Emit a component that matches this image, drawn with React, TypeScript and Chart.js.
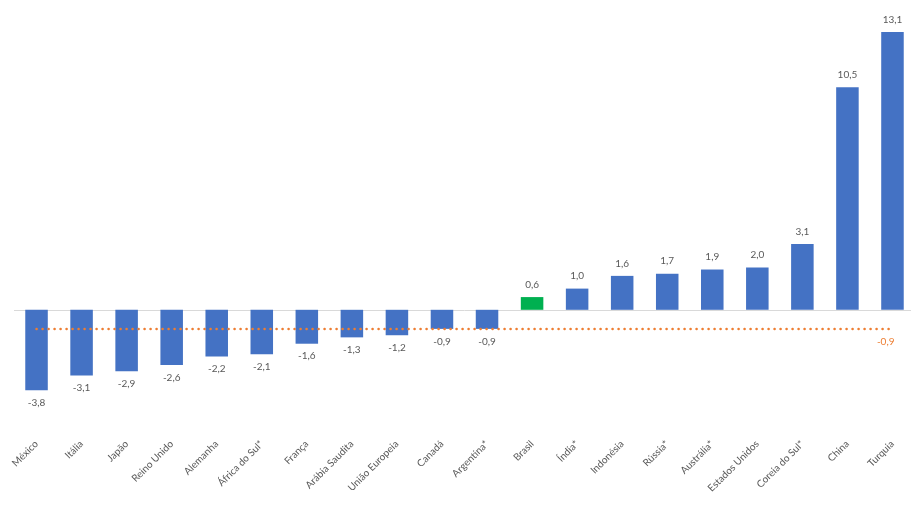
import React, { useEffect, useRef } from "react";
import { Chart, registerables } from "chart.js";

Chart.register(...registerables);

const categories = [
  "México", "Itália", "Japão", "Reino Unido", "Alemanha", "África do Sul*", "França",
  "Arábia Saudita", "União Europeia", "Canadá", "Argentina*", "Brasil", "Índia*",
  "Indonésia", "Rússia*", "Austrália*", "Estados Unidos", "Coreia do Sul*", "China", "Turquia",
];
const values = [-3.8, -3.1, -2.9, -2.6, -2.2, -2.1, -1.6, -1.3, -1.2, -0.9, -0.9, 0.6, 1.0, 1.6, 1.7, 1.9, 2.0, 3.1, 10.5, 13.1];
const highlight = "Brasil";
const averageValue = -0.9;
const averageLine = categories.map(() => averageValue);

const BLUE = "#4472C4";
const GREEN = "#00B050";
const ORANGE = "#ED7D31";
const TEXT = "#595959";
const FONT = "Lato";

const fmt = (v: number) => v.toFixed(1).replace(".", ",");

const zeroLinePlugin = {
  id: "zeroLine",
  beforeDatasetsDraw(chart: any) {
    const { ctx, chartArea, scales } = chart;
    const y = Math.round(scales.y.getPixelForValue(0)) + 0.5;
    ctx.save();
    ctx.strokeStyle = "#D9D9D9";
    ctx.lineWidth = 1;
    ctx.beginPath();
    ctx.moveTo(chartArea.left, y);
    ctx.lineTo(chart.width, y);
    ctx.stroke();
    ctx.restore();
  },
};

const labelPlugin = {
  id: "valueLabels",
  afterDatasetsDraw(chart: any) {
    const { ctx } = chart;
    ctx.save();
    ctx.font = `10px ${FONT}`;
    ctx.textBaseline = "middle";
    const barMeta = chart.getDatasetMeta(1);
    barMeta.data.forEach((el: any, i: number) => {
      const v = values[i];
      ctx.fillStyle = TEXT;
      ctx.textAlign = "center";
      ctx.fillText(fmt(v), el.x, v >= 0 ? el.y - 12.5 : el.y + 12.5);
    });
    const lineMeta = chart.getDatasetMeta(0);
    const last = lineMeta.data[lineMeta.data.length - 1];
    ctx.fillStyle = ORANGE;
    ctx.textAlign = "right";
    ctx.fillText(fmt(averageValue), last.x + 2, last.y + 13);
    ctx.restore();
  },
};

export default function App() {
  const ref = useRef<HTMLCanvasElement | null>(null);
  useEffect(() => {
    if (!ref.current) return;
    const chart = new Chart(ref.current, {
      type: "bar",
      data: {
        labels: categories,
        datasets: [
          {
            type: "line" as any,
            data: averageLine,
            borderColor: ORANGE,
            borderWidth: 2.5,
            borderDash: [0.1, 5.9],
            borderCapStyle: "round",
            pointRadius: 0,
            fill: false,
            order: 0,
          } as any,
          {
            type: "bar",
            data: values,
            backgroundColor: categories.map((c) => (c === highlight ? GREEN : BLUE)),
            categoryPercentage: 1,
            barPercentage: 0.5,
            order: 1,
          },
        ],
      },
      options: {
        animation: false,
        responsive: true,
        maintainAspectRatio: false,
        layout: { padding: { top: 13, left: 14, right: 0, bottom: 0 } },
        plugins: { legend: { display: false }, tooltip: { enabled: false } },
        scales: {
          x: {
            grid: { display: false, drawTicks: false },
            border: { display: false },
            ticks: {
              color: TEXT,
              font: { family: FONT, size: 10 },
              autoSkip: false,
              minRotation: 45,
              maxRotation: 45,
              padding: 1,
            },
            afterFit(scale: any) {
              scale.height = 72;
            },
          },
          y: {
            display: false,
            min: -6,
            max: 14,
          },
        },
      },
      plugins: [zeroLinePlugin, labelPlugin],
    });
    return () => chart.destroy();
  }, []);
  return (
    <div style={{ position: "fixed", left: 0, top: 0, width: 911, height: 509, overflow: "hidden", background: "#fff" }}>
      <div style={{ position: "relative", width: 915, height: 509 }}>
        <canvas ref={ref} />
      </div>
    </div>
  );
}
